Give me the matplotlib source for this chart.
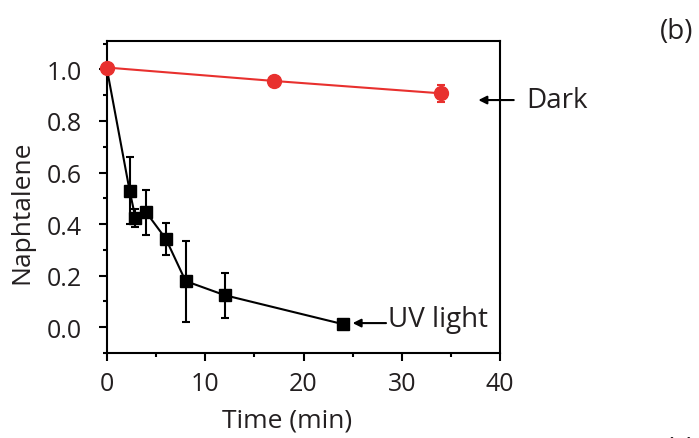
import matplotlib.pyplot as plt
from matplotlib.ticker import MultipleLocator

plt.rcParams['font.family'] = ['Open Sans', 'DejaVu Sans']

# UV light series (black squares)
uv_time = [0, 2.3, 2.9, 4, 6, 8, 12, 24]
uv_value = [1.0, 0.53, 0.423, 0.445, 0.342, 0.179, 0.124, 0.012]
uv_err = [0, 0.13, 0.035, 0.088, 0.063, 0.157, 0.088, 0]

# Dark series (red circles)
dark_time = [0, 17, 34]
dark_value = [1.007, 0.955, 0.907]
dark_err = [0, 0, 0.033]

red = "#e8302e"
ink = "#231f20"

fig = plt.figure(figsize=(6.99, 4.39), dpi=100)
ax = fig.add_axes([107/699, 1 - 354/439, 393/699, 312/439])

# first UV point sits under the red circle, so skip its marker
ax.errorbar(uv_time, uv_value, yerr=uv_err, color="black", marker="s",
            markersize=8, linewidth=1.5, elinewidth=1.5, capsize=3,
            capthick=1.5, zorder=3, clip_on=False,
            markevery=list(range(1, len(uv_time))))
ax.errorbar(dark_time, dark_value, yerr=dark_err, color=red, marker="o",
            markersize=10, linewidth=1.5, elinewidth=1.5, capsize=3,
            capthick=1.5, zorder=4, clip_on=False)

ax.set_xlim(0, 40)
ax.set_ylim(-0.1, 1.11)
ax.xaxis.set_major_locator(MultipleLocator(10))
ax.xaxis.set_minor_locator(MultipleLocator(5))
ax.yaxis.set_minor_locator(MultipleLocator(0.1))
ax.set_yticks([0.0, 0.2, 0.4, 0.6, 0.8, 1.0])
ax.set_yticklabels(["0.0", "0.2", "0.4", "0.6", "0.8", "1.0"])

for s in ax.spines.values():
    s.set_linewidth(1.5)
ax.tick_params(which="major", direction="out", length=6, width=1.5,
               labelsize=18, colors="black", labelcolor=ink)
ax.tick_params(axis="y", which="major", pad=12)
ax.tick_params(axis="x", which="major", pad=7)
ax.tick_params(which="minor", direction="out", length=3, width=1.5)

ax.set_xlabel("Time (min)", fontsize=19, color=ink)
ax.set_ylabel("Naphtalene", fontsize=19, color=ink)
ax.xaxis.set_label_coords(0.459, -0.175)
ax.yaxis.set_label_coords(-0.185, 0.455)

# arrows and labels
ax.annotate("", xy=(37.8, 0.881), xytext=(41.4, 0.881),
            arrowprops=dict(arrowstyle="-|>", color="black", lw=1.5,
                            mutation_scale=12, shrinkA=0, shrinkB=0),
            annotation_clip=False)
ax.text(42.7, 0.88, "Dark", fontsize=20, color=ink, va="center", ha="left",
        clip_on=False)
ax.annotate("", xy=(25.0, 0.016), xytext=(28.4, 0.016),
            arrowprops=dict(arrowstyle="-|>", color="black", lw=1.5,
                            mutation_scale=12, shrinkA=0, shrinkB=0),
            annotation_clip=False)
ax.text(28.6, 0.03, "UV light", fontsize=20, color=ink, va="center", ha="left")

fig.text(677/699, 1 - 32/439, "(b)", fontsize=20, color=ink, ha="center",
         va="center")
fig.text(681/699, 1 - 436/439, "(c)", fontsize=20, color=ink, ha="center",
         va="top")

fig.savefig("out.png", dpi=100)
